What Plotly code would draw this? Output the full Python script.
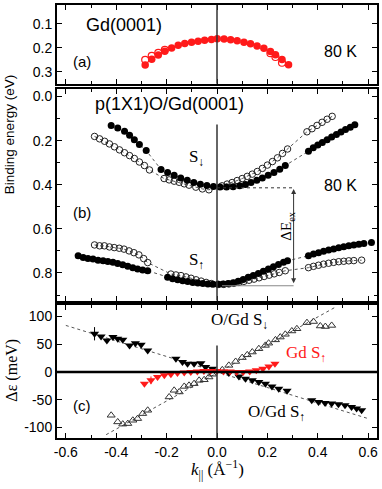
import plotly.graph_objects as go

# ---------------- Panel (a): Gd(0001) ----------------
ka_fill = [-0.285, -0.259, -0.233, -0.207, -0.180, -0.154, -0.128, -0.101, -0.075, -0.049, -0.022,
           0.001, 0.028, 0.054, 0.080, 0.107, 0.133, 0.159, 0.186, 0.212, 0.232, 0.258, 0.284]
Ea_fill = [0.272, 0.247, 0.230, 0.214, 0.200, 0.189, 0.182, 0.176, 0.172, 0.168, 0.165,
           0.162, 0.163, 0.166, 0.170, 0.176, 0.183, 0.192, 0.202, 0.215, 0.229, 0.249, 0.270]
ka_open = [-0.285, -0.259, -0.233, -0.207, 0.212, 0.232, 0.258]
Ea_open = [0.250, 0.233, 0.221, 0.208, 0.222, 0.238, 0.262]

# ---------------- Panel (b): p(1x1)O/Gd(0001) ----------------
kb_dn_fill = [-0.420, -0.394, -0.367, -0.347, -0.328, -0.308, -0.281,
              -0.222, -0.196, -0.170, -0.144, -0.118, -0.092, -0.066, -0.040, -0.014,
              0.012, 0.038, 0.064, 0.090, 0.113, 0.135, 0.158, 0.180, 0.203, 0.226, 0.249, 0.271,
              0.363, 0.382, 0.400, 0.418, 0.437, 0.455, 0.474, 0.492, 0.510, 0.529, 0.547]
Eb_dn_fill = [0.131, 0.143, 0.158, 0.176, 0.196, 0.218, 0.245,
              0.331, 0.345, 0.357, 0.369, 0.380, 0.390, 0.398, 0.404, 0.408,
              0.410, 0.410, 0.409, 0.405, 0.399, 0.390, 0.380, 0.369, 0.357, 0.345, 0.330, 0.313,
              0.248, 0.232, 0.220, 0.208, 0.196, 0.184, 0.172, 0.161, 0.150, 0.139, 0.128]

kb_dn_open = [-0.486, -0.466, -0.446, -0.427, -0.407, -0.387, -0.367, -0.347, -0.328, -0.308, -0.288, -0.268,
              -0.210, -0.190, -0.170, -0.150, -0.130, -0.111, -0.084, -0.058, -0.032,
              0.020, 0.040, 0.060, 0.080, 0.100, 0.120, 0.140, 0.160, 0.180, 0.200, 0.220, 0.240, 0.260, 0.280,
              0.357, 0.377, 0.397, 0.417, 0.437, 0.457]
Eb_dn_open = [0.181, 0.192, 0.203, 0.215, 0.228, 0.242, 0.255, 0.268, 0.281, 0.297, 0.313, 0.333,
              0.372, 0.378, 0.384, 0.389, 0.396, 0.402, 0.411, 0.419, 0.423,
              0.405, 0.397, 0.390, 0.381, 0.372, 0.362, 0.352, 0.340, 0.326, 0.311, 0.295, 0.278, 0.258, 0.238,
              0.160, 0.146, 0.131, 0.117, 0.103, 0.090]

kb_up_fill = [-0.551, -0.531, -0.512, -0.492, -0.472, -0.452, -0.433, -0.413, -0.394, -0.374, -0.354, -0.334, -0.315, -0.295, -0.275,
              -0.196, -0.176, -0.156, -0.136, -0.116, -0.096, -0.076, -0.056, -0.036, -0.016,
              0.004, 0.024, 0.044, 0.064, 0.084, 0.104, 0.124, 0.144, 0.164, 0.184, 0.204, 0.224, 0.244, 0.264, 0.280,
              0.363, 0.383, 0.403, 0.423, 0.443, 0.463, 0.483, 0.503, 0.523, 0.543, 0.563, 0.583, 0.613]
Eb_up_fill = [0.722, 0.730, 0.734, 0.737, 0.742, 0.745, 0.748, 0.752, 0.757, 0.763, 0.770, 0.776, 0.782, 0.787, 0.790,
              0.820, 0.826, 0.831, 0.835, 0.839, 0.843, 0.846, 0.848, 0.850, 0.851,
              0.851, 0.850, 0.848, 0.844, 0.838, 0.830, 0.820, 0.811, 0.802, 0.792, 0.782, 0.772, 0.762, 0.752, 0.745,
              0.722, 0.714, 0.708, 0.702, 0.696, 0.691, 0.686, 0.681, 0.677, 0.673, 0.670, 0.667, 0.662]

kb_up_open = [-0.486, -0.466, -0.447, -0.427, -0.408, -0.388, -0.369, -0.349, -0.330, -0.310, -0.291, -0.275,
              -0.183, -0.163, -0.143, -0.123, -0.103, -0.083, -0.063, -0.043, -0.023,
              0.007, 0.027, 0.047, 0.067, 0.087, 0.107, 0.127, 0.147, 0.167, 0.187, 0.207, 0.227, 0.247, 0.271,
              0.363, 0.383, 0.403, 0.423, 0.443, 0.463, 0.483, 0.503, 0.523, 0.543, 0.574]
Eb_up_open = [0.673, 0.677, 0.677, 0.682, 0.685, 0.688, 0.692, 0.700, 0.708, 0.718, 0.735, 0.753,
              0.805, 0.809, 0.812, 0.818, 0.824, 0.831, 0.837, 0.843, 0.848,
              0.852, 0.852, 0.850, 0.847, 0.843, 0.838, 0.833, 0.828, 0.822, 0.816, 0.810, 0.804, 0.798, 0.790,
              0.776, 0.770, 0.765, 0.760, 0.756, 0.752, 0.749, 0.747, 0.745, 0.744, 0.742]

# exchange splitting marker (k, E)
dEex_k = 0.304
dEex_top = 0.414
dEex_bot = 0.858

# ---------------- Panel (c): splitting difference ----------------
kc_ogd_up = [-0.486, -0.460, -0.437, -0.413, -0.394, -0.374, -0.347, -0.324, -0.301, -0.275,
             -0.163, -0.137, -0.117, -0.091, -0.064, -0.045, -0.018,
             0.047, 0.087, 0.113, 0.140, 0.166, 0.192, 0.218, 0.245, 0.278,
             0.376, 0.403, 0.429, 0.455, 0.482, 0.508, 0.534, 0.554, 0.574]
dc_ogd_up = [69, 64, 57, 63, 60, 58, 48, 52, 49, 39,
             24, 18, 15, 15, 16, 9, 6,
             -2, -8, -12, -15, -18, -21, -26, -30, -34,
             -51, -54, -56, -57, -58, -60, -63, -66, -69]
err_ogd_up = [12] + [0] * 34

kc_ogd_dn = [-0.420, -0.394, -0.374, -0.354, -0.334, -0.315, -0.295, -0.275,
             -0.190, -0.170, -0.150, -0.130, -0.111, -0.091, -0.071, -0.051, -0.032, -0.018,
             0.021, 0.047, 0.074, 0.100, 0.120, 0.140, 0.166, 0.192, 0.205, 0.232, 0.251, 0.271, 0.297, 0.317,
             0.357, 0.383, 0.410, 0.430, 0.455]
dc_ogd_dn = [-78, -90, -94, -93, -87, -84, -75, -69,
             -45, -33, -36, -26, -24, -21, -15, -14, -9, -4,
             4, 12, 19, 26, 31, 36, 42, 48, 52, 58, 63, 68, 74, 78,
             89, 91, 83, 82, 84]

kc_gd_up = [-0.288, -0.262, -0.236, -0.209, -0.183, -0.157, -0.130, -0.104, -0.078, -0.052, -0.026,
            0.000, 0.026, 0.052, 0.078, 0.104, 0.130, 0.156, 0.182, 0.206, 0.230]
dc_gd_up = [-21, -15, -9, -6, -4, -2, -1, 0, 1, 2, 2,
            2, 1, 1, 0, 0, 1, 3, 6, 10, 15]
err_gd_up = [0, 7] + [0] * 19

fit_up_k = [-0.60, 0.60]
fit_up_d = [84, -84]
fit_dn_k = [-0.44, 0.47]
fit_dn_d = [-113, 117]

x_ticks = [-0.6, -0.4, -0.2, 0.0, 0.2, 0.4, 0.6]
x_ticktext = ["-0.6", "-0.4", "-0.2", "0.0", "0.2", "0.4", "0.6"]
ya_ticks = [0.1, 0.2, 0.3]
yb_ticks = [0.0, 0.2, 0.4, 0.6, 0.8]
yb_ticktext = ["0.0", "0.2", "0.4", "0.6", "0.8"]
yc_ticks = [-100, -50, 0, 50, 100]
yc_ticktext = ["-100", "-50", "0", "50", "100"]

RED = "#ff1a1a"
DOT = dict(color="#555555", width=1, dash="dot")
SANS = "Liberation Sans"
SERIF = "Liberation Serif"

fig = go.Figure()

# panel a
fig.add_trace(go.Scatter(x=ka_open, y=Ea_open, xaxis="x3", yaxis="y3", mode="markers",
                         marker=dict(symbol="circle-open", size=7, color=RED, line=dict(width=1.2))))
fig.add_trace(go.Scatter(x=ka_fill, y=Ea_fill, xaxis="x3", yaxis="y3", mode="markers",
                         marker=dict(symbol="circle", size=7.5, color=RED)))

# panel b
fig.add_trace(go.Scatter(x=kb_dn_open, y=Eb_dn_open, xaxis="x2", yaxis="y2", mode="lines+markers",
                         line=DOT, marker=dict(symbol="circle-open", size=6.5, color="#222",
                                               line=dict(width=1))))
fig.add_trace(go.Scatter(x=kb_dn_fill, y=Eb_dn_fill, xaxis="x2", yaxis="y2", mode="lines+markers",
                         line=DOT, marker=dict(symbol="circle", size=7, color="black")))
fig.add_trace(go.Scatter(x=kb_up_open, y=Eb_up_open, xaxis="x2", yaxis="y2", mode="lines+markers",
                         line=DOT, marker=dict(symbol="circle-open", size=6.5, color="#222",
                                               line=dict(width=1))))
fig.add_trace(go.Scatter(x=kb_up_fill, y=Eb_up_fill, xaxis="x2", yaxis="y2", mode="lines+markers",
                         line=DOT, marker=dict(symbol="circle", size=7, color="black")))

# panel c
fig.add_trace(go.Scatter(x=fit_up_k, y=fit_up_d, xaxis="x", yaxis="y", mode="lines", line=DOT))
fig.add_trace(go.Scatter(x=fit_dn_k, y=fit_dn_d, xaxis="x", yaxis="y", mode="lines", line=DOT))
fig.add_trace(go.Scatter(x=kc_ogd_dn, y=dc_ogd_dn, xaxis="x", yaxis="y", mode="markers",
                         marker=dict(symbol="triangle-up-open", size=7, color="#333",
                                     line=dict(width=1))))
fig.add_trace(go.Scatter(x=kc_ogd_up, y=dc_ogd_up, xaxis="x", yaxis="y", mode="markers",
                         error_y=dict(type="data", array=err_ogd_up, color="black", thickness=1, width=0),
                         marker=dict(symbol="triangle-down", size=8, color="black")))
fig.add_trace(go.Scatter(x=kc_gd_up, y=dc_gd_up, xaxis="x", yaxis="y", mode="markers",
                         error_y=dict(type="data", array=err_gd_up, color=RED, thickness=1, width=0),
                         marker=dict(symbol="triangle-down", size=8, color=RED)))

axis_common = dict(showline=True, linewidth=2, linecolor="black", mirror="ticks", ticks="inside",
                   ticklen=5, tickwidth=1.2, tickcolor="black", showgrid=False, zeroline=False,
                   tickfont=dict(family=SANS, size=14, color="black"))
xrange = [-0.635, 0.635]
xminor = dict(ticks="inside", ticklen=3, tickcolor="black", dtick=0.1, tick0=0, showgrid=False)

fig.update_layout(
    width=382, height=489,
    margin=dict(l=57, r=3, t=3, b=51),
    paper_bgcolor="white", plot_bgcolor="white",
    showlegend=False,
    xaxis=dict(axis_common, domain=[0, 1], anchor="y", range=xrange, tickvals=x_ticks,
               ticktext=x_ticktext, minor=xminor),
    xaxis2=dict(axis_common, domain=[0, 1], anchor="y2", range=xrange, tickvals=x_ticks,
                showticklabels=False, minor=xminor),
    xaxis3=dict(axis_common, domain=[0, 1], anchor="y3", range=xrange, tickvals=x_ticks,
                showticklabels=False, minor=xminor),
    yaxis=dict(axis_common, domain=[0, 0.308], anchor="x", range=[-119, 121.5],
               tickvals=yc_ticks, ticktext=yc_ticktext),
    yaxis2=dict(axis_common, domain=[0.317, 0.807], anchor="x2", range=[0.926, -0.036],
                tickvals=yb_ticks, ticktext=yb_ticktext,
                minor=dict(ticks="inside", ticklen=3, tickcolor="black", dtick=0.1, tick0=0)),
    yaxis3=dict(axis_common, domain=[0.818, 1], anchor="x3", range=[0.35, 0.021],
                tickvals=ya_ticks),
)

# guide lines
fig.add_shape(type="line", xref="x3", yref="y3 domain", x0=0, x1=0, y0=0, y1=1,
              line=dict(color="#333", width=1.5))
fig.add_shape(type="line", xref="x2", yref="y2", x0=0, x1=0, y0=0.127, y1=0.926,
              line=dict(color="#333", width=1.5))
fig.add_shape(type="line", xref="x", yref="y", x0=0, x1=0, y0=48, y1=-119,
              line=dict(color="#333", width=1.5))
fig.add_shape(type="line", xref="x domain", yref="y", x0=0, x1=1, y0=0, y1=0,
              line=dict(color="black", width=2.5))
# exchange splitting
fig.add_shape(type="line", xref="x2", yref="y2", x0=0, x1=dEex_k, y0=dEex_top, y1=dEex_top,
              line=dict(color="#333", width=1, dash="dot"))
fig.add_shape(type="line", xref="x2", yref="y2", x0=0.02, x1=dEex_k, y0=dEex_bot, y1=dEex_bot,
              line=dict(color="#888", width=1.2))
fig.add_annotation(xref="x2", yref="y2", axref="x2", ayref="y2", x=dEex_k, y=dEex_top + 0.005,
                   ax=dEex_k, ay=dEex_bot - 0.005, showarrow=True, arrowhead=2, arrowside="end+start",
                   arrowsize=1, arrowwidth=1, arrowcolor="#333", text="")

def txt(x, y, s, xref, yref, size, family=SANS, color="black", angle=0):
    fig.add_annotation(x=x, y=y, xref=xref, yref=yref, text=s, showarrow=False, textangle=angle,
                       xanchor="center", yanchor="middle",
                       font=dict(family=family, size=size, color=color))

txt(-0.371, 0.104, "Gd(0001)", "x3", "y3", 18)
txt(-0.537, 0.258, "(a)", "x3", "y3", 15)
txt(0.49, 0.217, "80 K", "x3", "y3", 16)
txt(-0.19, 0.036, "p(1X1)O/Gd(0001)", "x2", "y2", 18)
txt(0.49, 0.402, "80 K", "x2", "y2", 16)
txt(-0.537, 0.528, "(b)", "x2", "y2", 15)
txt(-0.083, 0.28, "S<sub>↓</sub>", "x2", "y2", 17, SERIF)
txt(-0.083, 0.745, "S<sub>↑</sub>", "x2", "y2", 17, SERIF)
txt(0.278, 0.59, "ΔE<sub>ex</sub>", "x2", "y2", 15, SERIF, angle=-90)
txt(0.09, 92, "O/Gd S<sub>↓</sub>", "x", "y", 17, SERIF)
txt(0.353, 32, "Gd S<sub>↑</sub>", "x", "y", 17, SERIF, color=RED)
txt(0.235, -74, "O/Gd S<sub>↑</sub>", "x", "y", 17, SERIF)
txt(-0.537, -60, "(c)", "x", "y", 15)

# axis titles
txt(-0.146, 0.70, "Binding energy (eV)", "paper", "paper", 13.5, angle=-90)
txt(-0.14, 0.156, "Δε (meV)", "paper", "paper", 16, SERIF, angle=-90)
txt(0.5, -0.0736, "<i>k</i><sub>||</sub> (Å<sup>−1</sup>)", "paper", "paper", 17, SERIF)

fig.write_html("out.html", config={"displayModeBar": False},
               post_script="document.body.style.margin='0';")
